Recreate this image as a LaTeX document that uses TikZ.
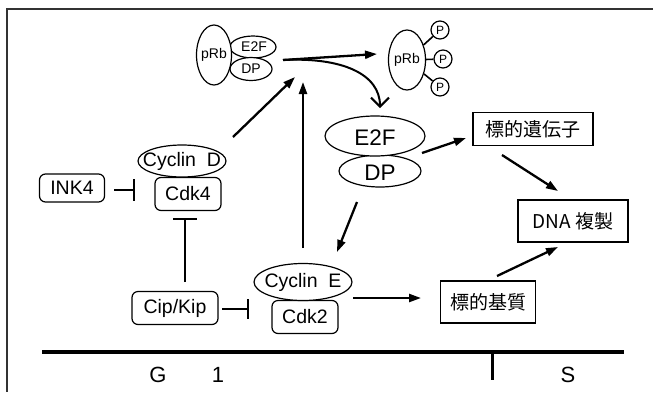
\documentclass[tikz,border=0pt]{standalone}
\usepackage{fontspec}
\setmainfont{Liberation Sans}
\newfontfamily\jfont{Noto Sans CJK JP}
\usetikzlibrary{shapes.geometric,arrows.meta}

\begin{document}
\begin{tikzpicture}[x=1pt,y=-1pt,
  oval/.style={draw,ellipse,fill=white,inner sep=0pt,line width=1.2pt},
  rbox/.style={draw,rounded corners=6pt,fill=white,inner sep=0pt,line width=1.2pt},
  sbox/.style={draw,fill=white,inner sep=0pt,line width=1.8pt},
  pcirc/.style={draw,circle,fill=white,inner sep=0pt,minimum size=18pt,line width=1.2pt,font=\fontsize{12}{12}\selectfont},
  arr/.style={line width=2.3pt,-{Triangle[length=12pt,width=8pt]}},
  inh/.style={line width=1.6pt,-{Bar[width=#1,line width=2pt]}},
  lbl/.style={font=\fontsize{19.5}{19.5}\selectfont},
  big/.style={font=\fontsize{22.5}{22.5}\selectfont},
  small/.style={font=\fontsize{14}{14}\selectfont},
  jp/.style={font=\fontsize{19}{19}\jfont}
]
\useasboundingbox (0,0) rectangle (653,392);

% frame
\draw[line width=2pt,black!80] (653,9) -- (7,9) -- (7,392);

% inactive pRb-E2F-DP complex
\node[oval,minimum width=46pt,minimum height=22pt,label={[small,xshift=1pt]center:E2F}] (se2f) at (253,47) {};
\node[oval,minimum width=42pt,minimum height=23pt,label={[small]center:DP}] (sdp) at (251,69) {};
\node[oval,minimum width=35pt,minimum height=60pt,label={[small]center:pRb}] (srb) at (214,55) {};

% phosphorylated pRb
\node[oval,minimum width=37pt,minimum height=60pt,label={[small]center:pRb}] (prb) at (407,60) {};
\node[pcirc] (p1) at (440,30) {P};
\node[pcirc] (p2) at (443,59) {P};
\node[pcirc] (p3) at (440,87) {P};
\draw[line width=1.6pt] (prb) -- (p1);
\draw[line width=1.6pt] (prb) -- (p2);
\draw[line width=1.6pt] (prb) -- (p3);

% free E2F/DP
\node[oval,minimum width=82pt,minimum height=32pt,label={[big,yshift=-2pt]center:DP}] (dp) at (380,171) {};
\node[oval,minimum width=100pt,minimum height=40pt,label={[big,yshift=-2pt]center:E2F}] (e2f) at (375,136) {};

% Cyclin D / Cdk4
\node[rbox,minimum width=66pt,minimum height=33pt,label={[lbl]center:Cdk4}] (cdk4) at (188,194) {};
\node[oval,minimum width=88pt,minimum height=32pt,label={[lbl]center:Cyclin\ \ D}] (cycD) at (182,161) {};
\node[rbox,minimum width=65pt,minimum height=28pt,label={[lbl]center:INK4}] (ink4) at (72,188) {};

% Cyclin E / Cdk2
\node[rbox,minimum width=66pt,minimum height=33pt,label={[lbl]center:Cdk2}] (cdk2) at (305,317) {};
\node[oval,minimum width=98pt,minimum height=37pt,label={[lbl]center:Cyclin\ \ E}] (cycE) at (303,282) {};
\node[rbox,minimum width=86pt,minimum height=33pt,label={[lbl]center:Cip/Kip}] (cip) at (175,308) {};

% targets
\node[sbox,minimum width=120pt,minimum height=33pt,label={[jp]center:標的遺伝子}] (tgene) at (533,129) {};
\node[sbox,minimum width=110pt,minimum height=42pt,label={[jp]center:DNA 複製}] (dna) at (573,221) {};
\node[sbox,minimum width=95pt,minimum height=42pt,label={[jp]center:標的基質}] (tsub) at (488,302) {};

% connector end points
\coordinate (split) at (283,60);
\coordinate (prbIn) at (377,54);
\coordinate (e2fIn) at (380,108);
\coordinate (cycDout) at (233,137);
\coordinate (hubD) at (295,77);
\coordinate (cycEout) at (303,248);
\coordinate (hubE) at (303,82);
\coordinate (e2fOut) at (422,153);
\coordinate (tgeneIn) at (466,138);
\coordinate (tgeneOut) at (502,155);
\coordinate (dnaInA) at (558,191);
\coordinate (tsubOut) at (497,276);
\coordinate (dnaInB) at (558,247);
\coordinate (dpOut) at (357,202);
\coordinate (cycEin) at (337,252);
\coordinate (cycEright) at (353,298);
\coordinate (tsubIn) at (421,298);
\coordinate (inkOut) at (114,190);
\coordinate (inkBar) at (135,190);
\coordinate (cipUp) at (185,282);
\coordinate (cipBar) at (185,218);
\coordinate (cipOut) at (222,309);
\coordinate (cdk2Bar) at (249,309);

% pRb phosphorylation releases E2F/DP
\draw[arr] (split) -- (prbIn);
\draw[line width=2pt,-{Straight Barb[length=9pt,width=18pt,line width=2pt]}]
  (split) .. controls (342,57) and (380,74) .. (e2fIn);

% activating arrows
\draw[arr] (cycDout) -- (hubD);
\draw[arr] (cycEout) -- (hubE);
\draw[arr] (e2fOut) -- (tgeneIn);
\draw[arr] (tgeneOut) -- (dnaInA);
\draw[arr] (tsubOut) -- (dnaInB);
\draw[arr] (dpOut) -- (cycEin);
\draw[arr] (cycEright) -- (tsubIn);

% inhibitors
\draw[inh=22pt] (inkOut) -- (inkBar);
\draw[inh=24pt] (cipUp) -- (cipBar);
\draw[inh=20pt] (cipOut) -- (cdk2Bar);

% cell-cycle axis
\draw[line width=3.5pt] (42,352) -- (624,352);
\draw[line width=3pt] (492,352) -- (492,380);
\node[font=\fontsize{22}{22}\selectfont] (g) at (158,375) {G};
\node[font=\fontsize{22}{22}\selectfont] (one) at (218,375) {1};
\node[font=\fontsize{22}{22}\selectfont] (s) at (568,375) {S};
\end{tikzpicture}
\end{document}
